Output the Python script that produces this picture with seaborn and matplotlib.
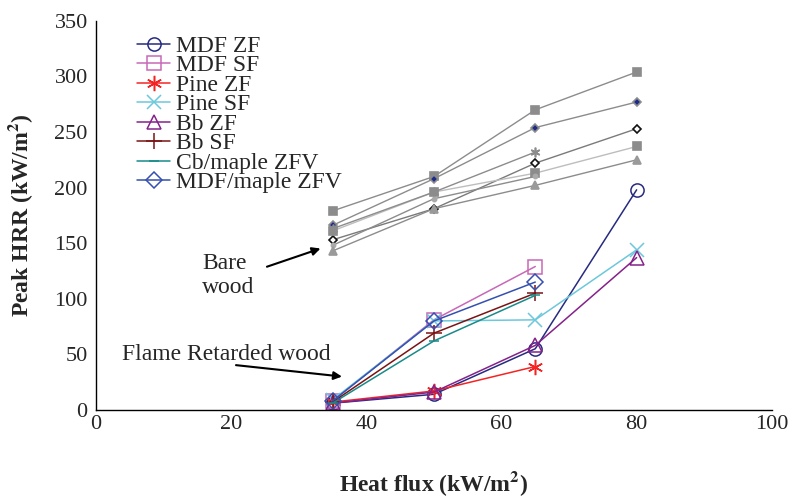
import matplotlib
matplotlib.use("Agg")
import matplotlib.pyplot as plt
import seaborn as sns

# heat flux levels (kW/m2)
flux4 = [35, 50, 65, 80]
flux3 = [35, 50, 65]

# flame retarded wood
mdf_zf = [6, 14, 55, 198]
mdf_sf = [8, 81, 129]
pine_zf = [7, 17, 39]
pine_sf = [9, 80, 81, 144]
bb_zf = [6, 16, 58, 137]
bb_sf = [7, 69, 105]
cb_maple_zfv = [6, 62, 103]
mdf_maple_zfv = [8, 80, 115]

# bare wood (unlabelled grey series)
bare_1 = [179, 210, 270, 304]
bare_2 = [166, 208, 254, 277]
bare_3 = [153, 181, 222, 253]
bare_4 = [161, 196, 213, 237]
bare_5 = [163, 196, 232]
bare_6 = [148, 190, 210]
bare_7 = [143, 181, 202, 225]

sns.set_style("white")
plt.rcParams['font.family'] = ['Liberation Serif', 'DejaVu Serif']
plt.rcParams['mathtext.fontset'] = 'stix'

FS = 17

fig = plt.figure(figsize=(7.94, 4.98), dpi=100)
ax = fig.add_axes([0.121, 0.177, 0.851, 0.781])

# grey bare wood curves
bare = [
    (flux4, bare_1, 's', '#8c8c8c', '#8c8c8c', '#8c8c8c', 5.5),
    (flux4, bare_2, 'D', '#8c8c8c', '#1c2a8a', '#8c8c8c', 4.5),
    (flux4, bare_3, 'D', '#7a7a7a', 'white', '#111111', 4.5),
    (flux4, bare_4, 's', '#bdbdbd', '#8c8c8c', '#8c8c8c', 5.5),
    (flux3, bare_5, (6, 2, 0), '#8c8c8c', '#8c8c8c', '#8c8c8c', 7),
    (flux3, bare_6, 'o', '#8c8c8c', '#aaaaaa', '#aaaaaa', 3),
    (flux4, bare_7, '^', '#8c8c8c', '#9a9a9a', '#9a9a9a', 6),
]
for x, y, m, lc, fc, ec, ms in bare:
    sns.lineplot(x=x, y=y, ax=ax, color=lc, linewidth=1, marker=m, markersize=ms,
                 markerfacecolor=fc, markeredgecolor=ec, markeredgewidth=1.2,
                 legend=False)

# flame retarded curves (legend)
fr = [
    ("MDF ZF", flux4, mdf_zf, 'o', '#262b80', 9.5),
    ("MDF SF", flux3, mdf_sf, 's', '#c868b8', 9.5),
    ("Pine ZF", flux3, pine_zf, (6, 2, 0), '#f42424', 11),
    ("Pine SF", flux4, pine_sf, 'x', '#6cc8dc', 10),
    ("Bb ZF", flux4, bb_zf, '^', '#85228a', 10.5),
    ("Bb SF", flux3, bb_sf, '+', '#7a1414', 11),
    ("Cb/maple ZFV", flux3, cb_maple_zfv, '_', '#198a8a', 7),
    ("MDF/maple ZFV", flux3, mdf_maple_zfv, 'D', '#3550b0', 8),
]
for name, x, y, m, c, ms in fr:
    sns.lineplot(x=x, y=y, ax=ax, color=c, linewidth=1.1, marker=m, markersize=ms,
                 markerfacecolor='none', markeredgecolor=c, markeredgewidth=1.1,
                 label=name)

ax.set_xlim(0, 100)
ax.set_ylim(0, 350)
ax.set_xticks(range(0, 101, 20))
ax.set_yticks(range(0, 351, 50))
ax.tick_params(axis='x', direction='in', length=5, labelsize=16, pad=4, color='black')
ax.tick_params(axis='y', direction='out', length=4, labelsize=16, pad=2, color='black')
sns.despine(ax=ax)
for s in ['left', 'bottom']:
    ax.spines[s].set_color('black')
    ax.spines[s].set_linewidth(1)

ax.set_xlabel("Heat flux (kW/m$^\\mathbf{2}$)", fontsize=FS, fontweight='bold', labelpad=25)
ax.set_ylabel("Peak HRR (kW/m$^\\mathbf{2}$)", fontsize=FS, fontweight='bold', labelpad=14)

leg = ax.legend(loc='upper left', bbox_to_anchor=(0.061, 0.963), frameon=False,
                fontsize=FS, handlelength=1.4, handletextpad=0.25, labelspacing=-0.085,
                borderaxespad=0, borderpad=0)

ax.text(15.7, 121, "Bare\nwood", fontsize=FS, va='center', ha='left', linespacing=1.2)
ax.annotate("", xy=(33.6, 146), xytext=(24.9, 128),
            arrowprops=dict(arrowstyle='-|>', color='black', lw=1.5, mutation_scale=12))
ax.text(3.8, 49.5, "Flame Retarded wood", fontsize=FS, va='center', ha='left')
ax.annotate("", xy=(36.8, 29.7), xytext=(20.3, 40.5),
            arrowprops=dict(arrowstyle='-|>', color='black', lw=1.5, mutation_scale=12))

fig.savefig("out.png", dpi=100)
